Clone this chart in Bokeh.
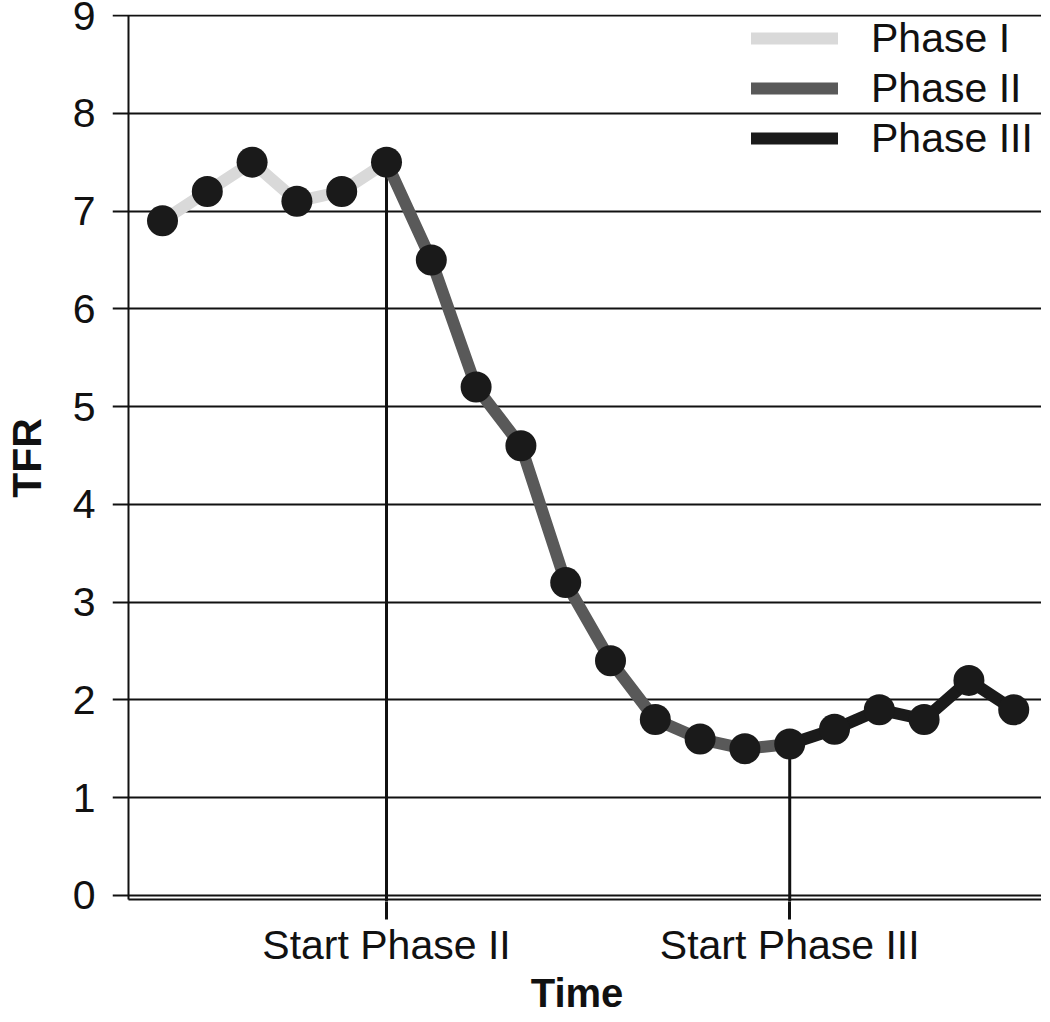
from bokeh.plotting import figure
from bokeh.models import FixedTicker, Legend, LegendItem, Range1d
from bokeh.embed import file_html
from bokeh.resources import INLINE

# ---- data ----
time_idx = list(range(20))
tfr = [6.9, 7.2, 7.5, 7.1, 7.2, 7.5, 6.5, 5.2, 4.6, 3.2,
       2.4, 1.8, 1.6, 1.5, 1.55, 1.7, 1.9, 1.8, 2.2, 1.9]
phase_names = ["Phase I", "Phase II", "Phase III"]
phase_start_idx = [0, 5, 14]
phase_end_idx = [5, 14, 19]
phase_colors = ["#d9d9d9", "#595959", "#1a1a1a"]
x_tick_pos = [5, 14]
x_tick_labels = ["Start Phase II", "Start Phase III"]
y_ticks = list(range(10))

FONT = "Liberation Sans"
X0, X1 = -1.116, 19.62
Y0, Y1 = -0.0614, 9.0102
AXIS_X = -0.759
BASE_Y = -0.041

p = figure(frame_width=929, frame_height=887,
           min_border_left=105, min_border_right=0, min_border_top=14, min_border_bottom=100,
           x_range=Range1d(X0, X1), y_range=Range1d(Y0, Y1),
           output_backend="svg", toolbar_location=None)
p.outline_line_color = None
p.background_fill_color = "white"

# grid
p.xgrid.visible = False
p.ygrid.ticker = FixedTicker(ticks=y_ticks)
p.ygrid.grid_line_color = "#111111"
p.ygrid.grid_line_width = 2

# y axis
p.yaxis.ticker = FixedTicker(ticks=y_ticks)
p.yaxis.axis_line_color = None
p.yaxis.major_tick_line_color = None
p.yaxis.minor_tick_line_color = None
p.yaxis.major_label_text_font = FONT
p.yaxis.major_label_text_font_size = "41px"
p.yaxis.major_label_text_color = "#111111"
p.yaxis.major_label_standoff = 11
p.yaxis.axis_label = "TFR"
p.yaxis.axis_label_text_font = FONT
p.yaxis.axis_label_text_font_style = "bold"
p.yaxis.axis_label_text_font_size = "41px"
p.yaxis.axis_label_text_color = "#111111"
p.yaxis.axis_label_standoff = 20

# x axis
p.xaxis.ticker = FixedTicker(ticks=x_tick_pos)
p.xaxis.major_label_overrides = {k: v for k, v in zip(x_tick_pos, x_tick_labels)}
p.xaxis.axis_line_color = None
p.xaxis.major_tick_in = 0
p.xaxis.major_tick_out = 18
p.xaxis.major_tick_line_width = 3
p.xaxis.major_tick_line_color = "#111111"
p.xaxis.minor_tick_line_color = None
p.xaxis.major_label_text_font = FONT
p.xaxis.major_label_text_font_size = "41px"
p.xaxis.major_label_text_color = "#111111"
p.xaxis.major_label_standoff = 2
p.xaxis.axis_label = "Time"
p.xaxis.axis_label_text_font = FONT
p.xaxis.axis_label_text_font_style = "bold"
p.xaxis.axis_label_text_font_size = "40px"
p.xaxis.axis_label_text_color = "#111111"
p.xaxis.axis_label_standoff = 0

# custom axis lines
p.segment(x0=[AXIS_X], y0=[BASE_Y], x1=[AXIS_X], y1=[y_ticks[-1]], line_color="#111111", line_width=2)
p.segment(x0=[AXIS_X], y0=[BASE_Y], x1=[X1], y1=[BASE_Y], line_color="#111111", line_width=2)

# phase start markers (vertical lines)
p.segment(x0=x_tick_pos, y0=[tfr[i] for i in x_tick_pos], x1=x_tick_pos, y1=[Y0] * len(x_tick_pos),
          line_color="#111111", line_width=3)

# phase lines
items = []
for name, a, b, c in zip(phase_names, phase_start_idx, phase_end_idx, phase_colors):
    r = p.line(time_idx[a:b + 1], tfr[a:b + 1], line_color=c, line_width=12,
               line_cap="round", line_join="round")
    items.append(LegendItem(label=name, renderers=[r]))

p.scatter(time_idx, tfr, size=31, fill_color="#1a1a1a", line_color="#1a1a1a", line_width=0)

legend = Legend(items=items, location="top_right")
legend.margin = 0
legend.padding = 8
legend.spacing = 2
legend.glyph_width = 87
legend.glyph_height = 48
legend.label_height = 48
legend.label_width = 170
legend.label_standoff = 33
legend.label_text_font = FONT
legend.label_text_font_size = "41px"
legend.label_text_color = "#111111"
legend.border_line_color = None
legend.background_fill_alpha = 0
p.add_layout(legend)

open("out.html", "w").write(file_html(p, INLINE))
